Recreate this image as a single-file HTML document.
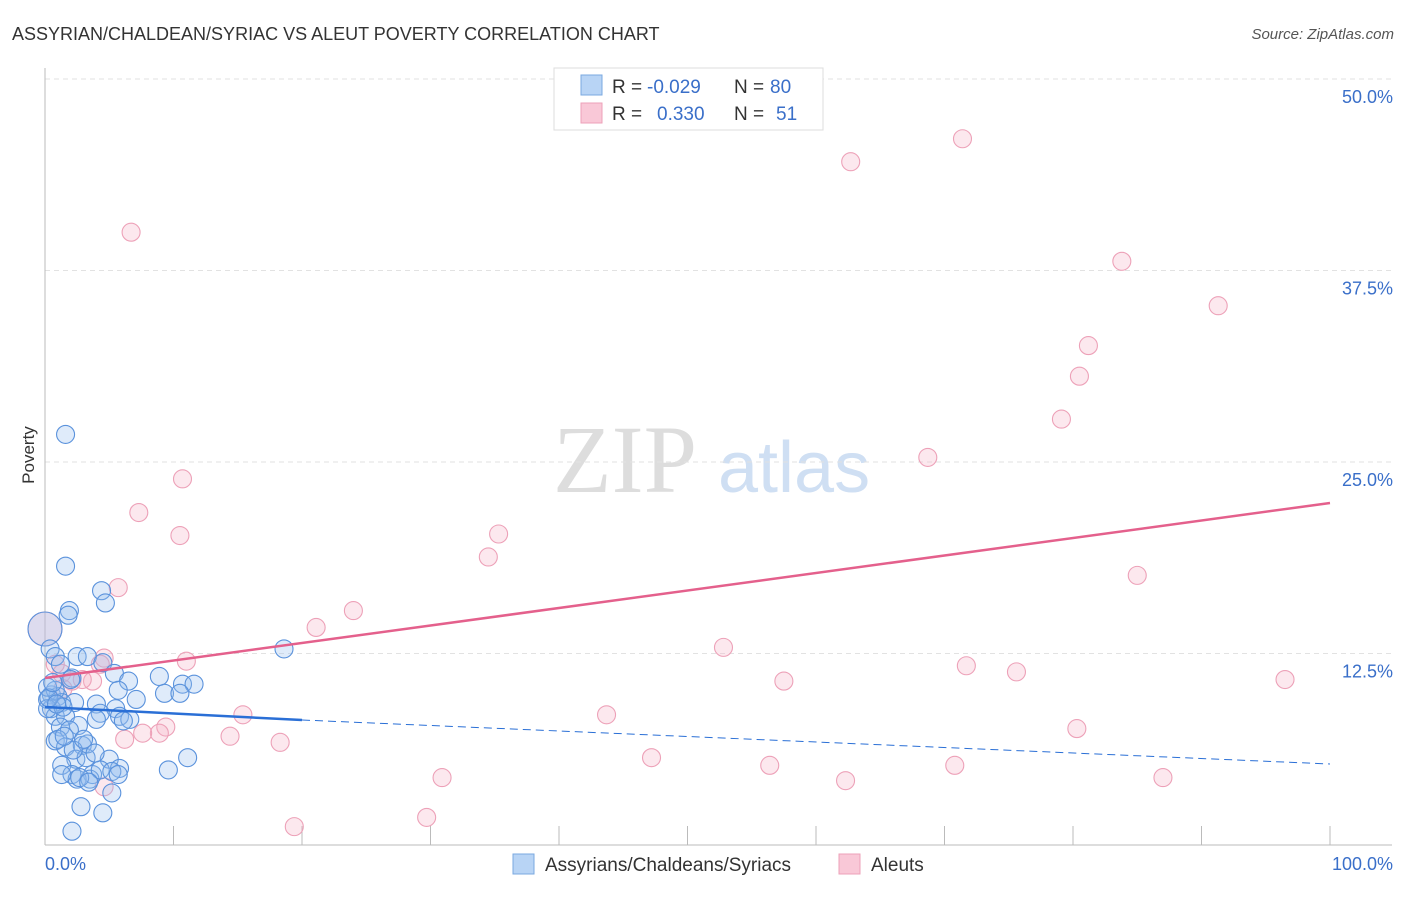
<!DOCTYPE html>
<html><head><meta charset="utf-8"><style>
body{margin:0;background:#fff;font-family:"Liberation Sans",sans-serif}
</style></head><body>
<svg id="chart" width="1406" height="892" xmlns="http://www.w3.org/2000/svg">
<text x="12" y="40" font-size="18" fill="#333">ASSYRIAN/CHALDEAN/SYRIAC VS ALEUT POVERTY CORRELATION CHART</text>
<text x="1394" y="39" font-size="15" fill="#555" font-style="italic" text-anchor="end">Source: ZipAtlas.com</text>
<text x="34" y="455" font-size="17" fill="#333" text-anchor="middle" transform="rotate(-90 34 455)">Poverty</text>
<text x="553" y="492" font-size="96" fill="#ddd" font-family="Liberation Serif">ZIP</text>
<text x="718" y="492" font-size="72" fill="#cfdff3">atlas</text>
<g id="grid"></g><g id="axes"></g><g id="pts"></g><g id="lines"></g>
<g>
<rect x="554" y="68" width="269" height="62" fill="#fff" stroke="#ddd"/>
<rect x="581" y="75" width="21" height="20" fill="#b8d4f5" stroke="#7aa8e0"/>
<rect x="581" y="103" width="21" height="20" fill="#f9c8d7" stroke="#eda1b8"/>
<text x="612" y="93" font-size="19" fill="#333">R =</text>
<text x="647" y="93" font-size="19" fill="#3a6fc9">-0.029</text>
<text x="734" y="93" font-size="19" fill="#333">N =</text>
<text x="770" y="93" font-size="19" fill="#3a6fc9">80</text>
<text x="612" y="120" font-size="19" fill="#333">R =</text>
<text x="657" y="120" font-size="19" fill="#3a6fc9">0.330</text>
<text x="734" y="120" font-size="19" fill="#333">N =</text>
<text x="776" y="120" font-size="19" fill="#3a6fc9">51</text>
</g>
<g>
<rect x="513" y="854" width="21" height="20" fill="#b8d4f5" stroke="#7aa8e0"/>
<text x="545" y="871" font-size="19" fill="#333">Assyrians/Chaldeans/Syriacs</text>
<rect x="839" y="854" width="21" height="20" fill="#f9c8d7" stroke="#eda1b8"/>
<text x="871" y="871" font-size="19" fill="#333">Aleuts</text>
</g>
</svg>
<script>
const yTicks=[12.5,25,37.5,50];
const yTickLabels=["12.5%","25.0%","37.5%","50.0%"];
const xTicks=[0,10,20,30,40,50,60,70,80,90,100];
const blueX=[1.6,1.6,4.4,4.7,1.9,1.8,0,0.4,0.8,2.5,3.3,4.5,1.2,2.1,5.4,6.5,8.9,10.7,11.6,18.6,5.7,9.3,10.5,7.1,0.5,1,0.2,1.3,2.3,4,5.5,4.3,5.8,6.6,0.5,0.8,1.6,4,2.6,1.2,1.9,0.8,1.6,2.9,5,2.4,3.2,1.3,11.1,9.6,5.8,3.7,2.1,2.5,3.5,1.3,2.7,4.3,5.2,5.7,3.4,2.8,4.5,5.2,2.1,1,0.2,0.8,1.4,0.2,3.3,3.9,0.3,2.2,1.5,0.6,3,6.1,0.9,2];
const blueY=[26.8,18.2,16.6,15.8,15.3,15,14.1,12.8,12.3,12.3,12.3,11.9,11.8,10.9,11.2,10.7,11,10.5,10.5,12.8,10.1,9.9,9.9,9.5,9.8,9.7,9.5,9.3,9.3,9.2,8.9,8.6,8.4,8.2,8.9,8.4,8.4,8.2,7.8,7.7,7.5,6.8,6.4,6.5,5.6,5.6,5.7,5.2,5.7,4.9,5,4.6,4.6,4.3,4.3,4.6,4.4,4.9,4.8,4.6,4.1,2.5,2.1,3.4,0.9,6.9,8.9,10.1,9,10.3,6.6,6,9.6,6.2,7.1,10.6,6.9,8.1,9.2,10.8];
const pinkX=[6.7,62.7,71.4,83.8,91.3,81.2,80.5,79.1,68.7,10.7,7.3,10.5,35.3,34.5,85,5.7,24,21.1,0,52.8,4.6,11,71.7,75.6,96.5,57.5,1.3,3.7,2.1,2.9,1.4,15.4,43.7,9.4,8.9,7.6,6.2,14.4,18.3,80.3,47.2,56.4,70.8,30.9,87,62.3,4.6,19.4,29.7,4.3,0.8];
const pinkY=[40,44.6,46.1,38.1,35.2,32.6,30.6,27.8,25.3,23.9,21.7,20.2,20.3,18.8,17.6,16.8,15.3,14.2,14.1,12.9,12.2,12,11.7,11.3,10.8,10.7,11.2,10.7,10.7,10.8,10.2,8.5,8.5,7.7,7.3,7.3,6.9,7.1,6.7,7.6,5.7,5.2,5.2,4.4,4.4,4.2,3.8,1.2,1.8,11.8,11.8];
const blueSize=[0,0,0,0,0,0,1];
const X=v=>45+v*12.85, Y=v=>845-v*15.32;
const NS="http://www.w3.org/2000/svg";
function mk(t,a,p){const e=document.createElementNS(NS,t);for(const k in a)e.setAttribute(k,a[k]);document.getElementById(p).appendChild(e);return e;}
yTicks.forEach((t,i)=>{
 const g=mk('line',{x1:45,x2:1392,y1:Y(t),y2:Y(t),stroke:'#e2e2e2','stroke-dasharray':'5,4'},'grid');
 
 
 const l=mk('text',{x:1393,y:Y(t)+24,'font-size':18,fill:'#3a6fc9','text-anchor':'end'},'axes');
 l.textContent=yTickLabels[i];
 
 
});
mk('line',{x1:45,x2:45,y1:68,y2:845,stroke:'#bbb'},'axes');
mk('line',{x1:45,x2:1392,y1:845,y2:845,stroke:'#bbb'},'axes');
xTicks.forEach(t=>{const e=mk('line',{x1:X(t),x2:X(t),y1:826,y2:845,stroke:'#bbb'},'axes');
 
 });
let a=mk('text',{x:45,y:870,'font-size':18,fill:'#3a6fc9'},'axes');a.textContent='0.0%';


a=mk('text',{x:1393,y:870,'font-size':18,fill:'#3a6fc9','text-anchor':'end'},'axes');a.textContent='100.0%';


pinkX.forEach((x,i)=>{const r=(x===0)?17:9;
 const c=mk('circle',{cx:X(x),cy:Y(pinkY[i]),r:r,fill:'rgba(246,180,200,0.3)',stroke:'#eda1b8','stroke-width':1.1},'pts');
 
 });
blueX.forEach((x,i)=>{const r=(blueSize[i])?17:9;
 const c=mk('circle',{cx:X(x),cy:Y(blueY[i]),r:r,fill:'rgba(150,190,240,0.3)',stroke:'#5a92dc','stroke-width':1.1},'pts');
 
 });
let l=mk('line',{x1:X(0),y1:707,x2:X(20),y2:720,stroke:'#2a6fd6','stroke-width':2.5},'lines');


l=mk('line',{x1:X(20),y1:720,x2:X(100),y2:764,stroke:'#2a6fd6','stroke-width':1,'stroke-dasharray':'8,5'},'lines');


l=mk('line',{x1:X(0),y1:678,x2:X(100),y2:503,stroke:'#e4608c','stroke-width':2.5},'lines');


</script>
</body></html>
